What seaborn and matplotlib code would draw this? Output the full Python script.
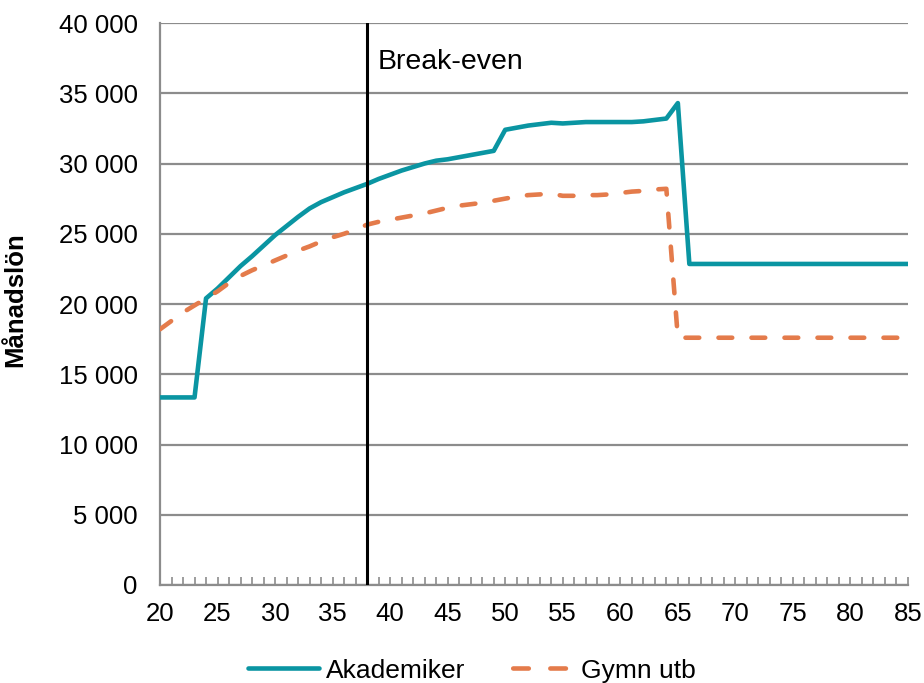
"""Månadslön över livet: akademiker mot gymnasieutbildad, med break-even."""
import matplotlib
matplotlib.use('Agg')
import matplotlib.pyplot as plt
from matplotlib.ticker import FuncFormatter, MultipleLocator
import seaborn as sns
import pandas as pd
import numpy as np

# %%
# Data
ages = list(range(20, 86))

akademiker = [13350, 13350, 13350, 13350, 20400, 21100, 21900, 22700, 23400, 24150,
              24900, 25550, 26200, 26800, 27250, 27600, 27950, 28250, 28550, 28900,
              29200, 29500, 29750, 30000, 30200, 30300, 30450, 30600, 30750, 30900,
              32400, 32550, 32700, 32800, 32900, 32850, 32900, 32950, 32950, 32950,
              32950, 32950, 33000, 33100, 33200, 34300] + [22850] * 20

gymn_utb = [18200, 18800, 19400, 19900, 20400, 20900, 21500, 22000, 22400, 22750,
            23100, 23450, 23800, 24100, 24450, 24750, 25000, 25300, 25650, 25850,
            26000, 26150, 26300, 26450, 26650, 26850, 27000, 27100, 27200, 27350,
            27500, 27650, 27750, 27800, 27850, 27700, 27700, 27750, 27750, 27800,
            27900, 28000, 28050, 28150, 28200] + [17600] * 21

series_names = ['Akademiker', 'Gymn utb']
break_even_age = 38

df = pd.DataFrame({
    'Ålder': ages * 2,
    'Månadslön': akademiker + gymn_utb,
    'Grupp': [series_names[0]] * len(ages) + [series_names[1]] * len(ages),
})

# %%
sns.set_style('white')
plt.rcParams['font.family'] = ['Liberation Sans', 'DejaVu Sans']
plt.rcParams['text.color'] = 'black'
plt.rcParams['axes.labelcolor'] = 'black'
plt.rcParams['xtick.labelcolor'] = 'black'
plt.rcParams['ytick.labelcolor'] = 'black'

fig = plt.figure(figsize=(9.24, 6.83), dpi=100)
ax = fig.add_axes([160 / 924, 1 - 585 / 683, 748 / 924, 562 / 683])

palette = {'Akademiker': '#0A95A2', 'Gymn utb': '#E47B4B'}
dashes = {'Akademiker': '', 'Gymn utb': (3.0, 4.2)}
sns.lineplot(data=df, x='Ålder', y='Månadslön', hue='Grupp', style='Grupp',
             palette=palette, dashes=dashes, linewidth=3.3, ax=ax, zorder=3,
             legend=True)
for line in ax.get_lines():
    line.set_dash_capstyle('round')
    line.set_solid_capstyle('round')

ax.axvline(break_even_age, color='black', linewidth=2.2, zorder=4)
ax.text(break_even_age + 0.95, 37250, 'Break-even', fontsize=20.5, va='center', ha='left')

ax.set_xlim(20, 85)
ax.set_ylim(0, 40000)
ax.xaxis.set_major_locator(MultipleLocator(5))
ax.xaxis.set_minor_locator(MultipleLocator(1))
ax.yaxis.set_major_locator(MultipleLocator(5000))
ax.yaxis.set_major_formatter(FuncFormatter(lambda v, p: f'{int(v):,}'.replace(',', ' ')))

ax.grid(axis='y', color='#8c8c8c', linewidth=1.6, zorder=0)
ax.grid(axis='x', visible=False)
for side in ['top', 'right']:
    ax.spines[side].set_visible(False)
for side in ['left', 'bottom']:
    ax.spines[side].set_color('#8c8c8c')
    ax.spines[side].set_linewidth(1.6)

ax.tick_params(axis='x', which='both', bottom=True, direction='in', length=6, width=1.2,
               color='#8c8c8c', labelsize=18.5, labelcolor='black', pad=12)
ax.tick_params(axis='y', which='both', left=False, length=0, labelsize=18.5,
               labelcolor='black', pad=16)

ax.set_xlabel('')
ax.set_ylabel('Månadslön', fontsize=18.5, fontweight='bold', color='black')
ax.yaxis.set_label_coords(-0.178, 0.507)

handles, labels = ax.get_legend_handles_labels()
ax.get_legend().remove()
leg = fig.legend(handles, labels, loc='center', bbox_to_anchor=(0.511, 0.018), ncol=2,
                 frameon=False, fontsize=19, handlelength=2.7, columnspacing=1.45,
                 handletextpad=0.25, borderaxespad=0, labelcolor='black')
for h in leg.get_lines():
    h.set_linewidth(3.3)
    h.set_dash_capstyle('round')
    h.set_solid_capstyle('round')
# two dashes in the legend key, like the original
leg.get_lines()[1].set_linestyle((6.2, (3.4, 4.7)))

plt.savefig('out.png', dpi=100)
